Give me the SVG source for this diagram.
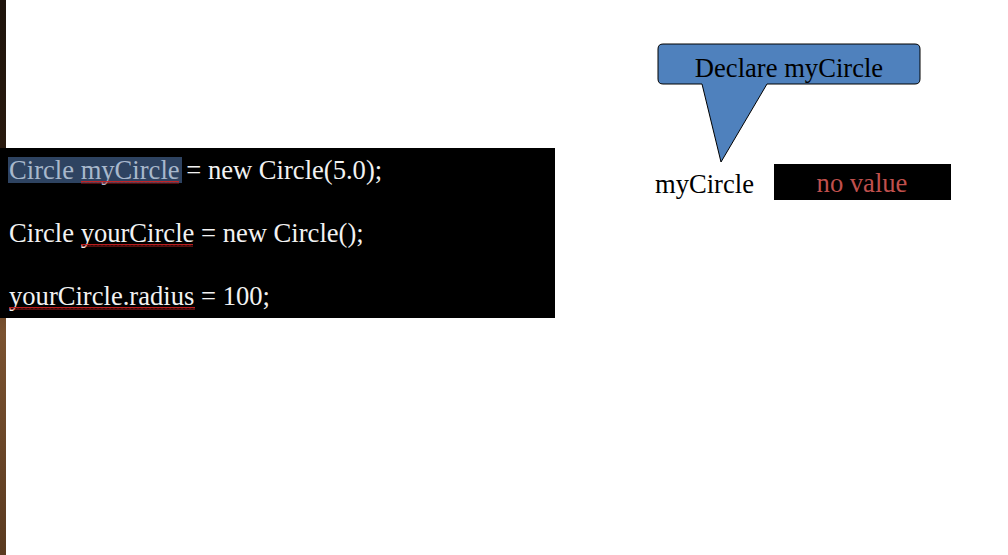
<svg xmlns="http://www.w3.org/2000/svg" width="1008" height="555" viewBox="0 0 1008 555">
<defs>
<linearGradient id="wood" x1="0" y1="0" x2="0" y2="1">
<stop offset="0" stop-color="#1e140c"/>
<stop offset="0.3" stop-color="#2a1a0e"/>
<stop offset="0.6" stop-color="#7a5230"/>
<stop offset="1" stop-color="#5a3a20"/>
</linearGradient>
<pattern id="squig" x="0" y="0" width="4" height="3" patternUnits="userSpaceOnUse">
<path d="M0,2.5 L1,0.5 L2,2.5 L3,0.5 L4,2.5" fill="none" stroke="#d02020" stroke-width="0.9"/>
</pattern>
<style>
.code{font-family:"Liberation Serif","Times New Roman",serif;font-size:26.6px;fill:#f2f2f2}
.lbl{font-family:"Liberation Serif","Times New Roman",serif;font-size:26.6px;fill:#000}
</style>
</defs>
<rect x="0" y="0" width="1008" height="555" fill="#fff"/>
<rect x="0" y="0" width="6" height="555" fill="url(#wood)"/>
<g id="code">
<rect x="0" y="148" width="555" height="170" fill="#000"/>
<rect x="8" y="157" width="174" height="26" fill="#2e4361"/>
<text class="code" x="9" y="179"><tspan fill="#a8b8cc">Circle myCircle</tspan> = new Circle(5.0);</text>
<text class="code" x="9" y="242">Circle yourCircle = new Circle();</text>
<text class="code" x="9" y="305">yourCircle.radius = 100;</text>
<rect x="81" y="181" width="98" height="3" fill="url(#squig)"/>
<rect x="81" y="244" width="112" height="3" fill="url(#squig)"/>
<rect x="9" y="307" width="186" height="3" fill="url(#squig)"/>
</g>
<g id="callout">
<path d="M663,44 H915 Q920,44 920,49 V79 Q920,84 915,84 H767 L721,162 L702,84 H663 Q658,84 658,79 V49 Q658,44 663,44 Z" fill="#4f81bd" stroke="#000" stroke-width="1"/>
<text class="lbl" x="789" y="77" text-anchor="middle">Declare myCircle</text>
</g>
<g id="variable">
<text class="lbl" x="655" y="193">myCircle</text>
<rect x="774" y="164" width="177" height="36" fill="#000"/>
<text x="862" y="192" text-anchor="middle" font-family="Liberation Serif, Times New Roman, serif" font-size="26.6" fill="#c0504d">no value</text>
</g>
<g id="connectors"></g>
</svg>
